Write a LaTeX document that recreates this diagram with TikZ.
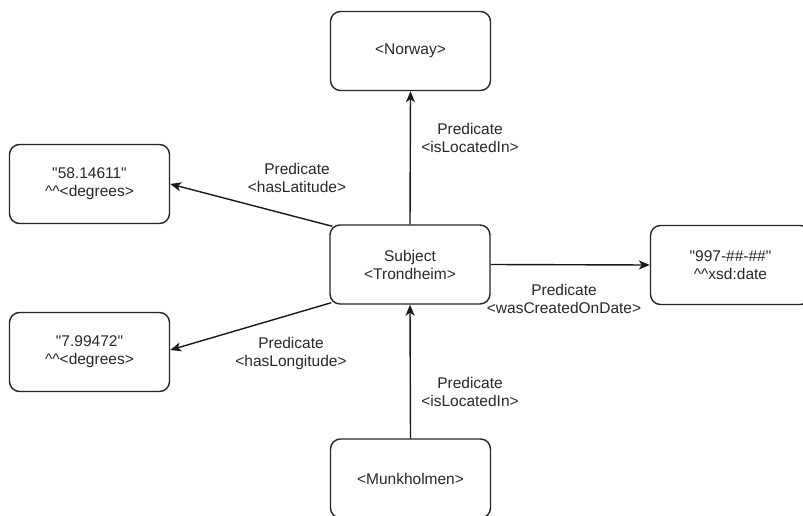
\documentclass[tikz,border=0pt]{standalone}
\usepackage{fontspec}
\setmainfont{Liberation Sans}[Ligatures=TeXOff]
\usetikzlibrary{arrows.meta}
\definecolor{txt}{RGB}{40,40,40}
\newcommand{\dq}{\char34\relax}
\begin{document}
\begin{tikzpicture}[x=1pt,y=-1pt,
  box/.style={draw=black!85, line width=1.4pt, rounded corners=10pt, minimum width=160pt, minimum height=79pt, align=center, inner sep=0pt, text=txt, font=\fontsize{15.5}{18}\selectfont},
  lbl/.style={align=center, inner sep=0pt, text=txt, font=\fontsize{15.5}{18}\selectfont},
  edge/.style={draw=black!90, line width=1.4pt, -{Stealth[length=11pt,width=9pt,inset=3pt]}}]
\useasboundingbox (0,0) rectangle (803,516);
\fill[white] (0,0) rectangle (803,516);
\node[box] (N) at (410.5,51) {<Norway>};
\node[box] (L) at (89.5,184) {\dq58.14611\dq\\\^{}\^{}<degrees>};
\node[box] (T) at (410,264.5) {Subject\\<Trondheim>};
\node[box] (G) at (89.5,352) {\dq7.99472\dq\\\^{}\^{}<degrees>};
\node[box] (D) at (730.5,265) {\dq997-\#\#-\#\#\dq\\\^{}\^{}xsd:date};
\node[box] (M) at (410.5,478.5) {<Munkholmen>};
\draw[edge] (T.north) -- (N.south);
\draw[edge] (M.north) -- (T.south);
\draw[edge] (T.east) -- (D.west);
\draw[edge] ([shift={(3,2)}]T.north west) -- (L.east);
\draw[edge] ([shift={(2,-2)}]T.south west) -- ([shift={(0,-2)}]G.east);
\node[lbl] (l1) at (470,137.5) {Predicate\\<isLocatedIn>};
\node[lbl] (l2) at (470,392) {Predicate\\<isLocatedIn>};
\node[lbl] (l3) at (297,178) {Predicate\\<hasLatitude>};
\node[lbl] (l4) at (291,353) {Predicate\\<hasLongitude>};
\node[lbl] (l5) at (564,299) {Predicate\\<wasCreatedOnDate>};
\end{tikzpicture}
\end{document}
